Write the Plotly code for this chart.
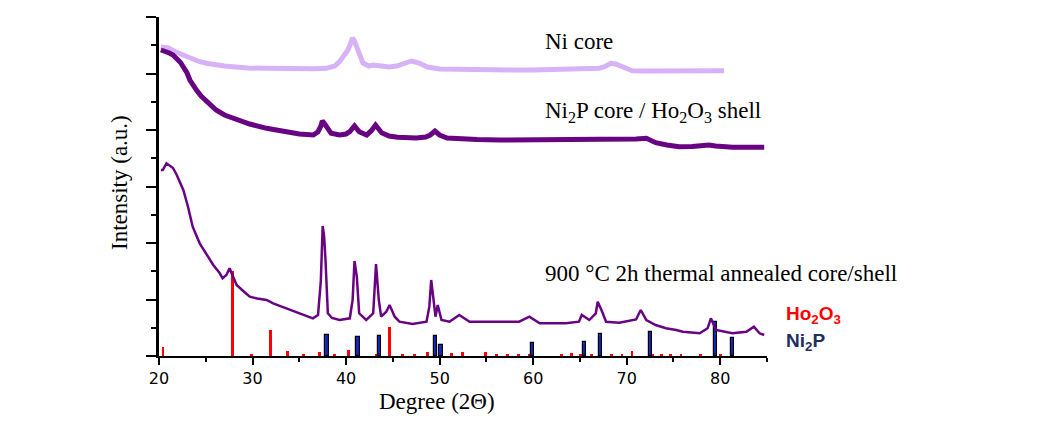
import plotly.graph_objects as go

# ---------------- data ----------------
# Ni core (2theta, intensity a.u.)
ni_x = [20.2, 21.0, 21.8, 22.6, 23.5, 24.35, 25.2, 26.1, 27.0, 27.9, 29.5, 31.5, 33.5, 35.0,
        36.5, 37.9, 38.8, 39.3, 39.8, 40.2, 40.5, 40.7, 40.9, 41.26, 41.8, 42.4, 42.9, 43.8,
        44.6, 45.4, 46.3, 47.0, 47.8, 48.7, 50.0, 52.0, 54.0, 56.4, 58.0, 60.0, 62.0, 64.0,
        65.5, 67.1, 67.8, 68.3, 68.8, 69.5, 70.6, 72.0, 74.0, 76.0, 77.8, 79.0, 80.4]
ni_y = [309, 308, 304, 301, 297, 294.3, 292.5, 291, 290, 289.3, 288, 287.7, 287.2, 287,
        287.3, 287.7, 290, 294.3, 300, 306, 313, 318, 315, 306, 293, 290, 291, 290,
        289, 290, 293, 295, 293, 289, 287, 286.5, 286.2, 286, 286, 286, 286.3, 286.5,
        286.8, 287.7, 290, 292.7, 292, 289, 285.3, 285, 285, 284.5, 284.3, 284.8, 285.3]

# Ni2P core / Ho2O3 shell
sh_x = [20.2, 20.6, 21.1, 21.5, 21.9, 22.3, 22.6, 23.0, 23.3, 23.6, 24.0, 24.5, 25.1, 25.6,
        26.1, 27.0, 27.9, 28.8, 29.7, 31.5, 33.25, 35.0, 36.5, 37.0, 37.3, 37.46, 37.65, 37.9,
        38.4, 39.3, 40.0, 40.4, 40.9, 41.4, 42.2, 42.7, 43.15, 43.8, 44.6, 45.5, 46.5, 47.5,
        48.5, 49.0, 49.5, 50.0, 50.8, 52.0, 54.0, 56.4, 59.0, 61.7, 64.0, 67.1, 69.0, 71.0,
        72.1, 73.1, 74.3, 75.6, 77.0, 78.2, 78.8, 79.5, 80.5, 81.3, 83.0, 84.7]
sh_y = [306, 305, 303, 301, 298, 293.5, 289, 283, 276, 271, 266, 260, 254.3, 250,
        246, 241, 238, 235, 232, 227.7, 224.3, 222, 221, 224.3, 230, 235, 233, 229.3,
        222.7, 221, 222, 224.3, 230, 224.3, 221, 225.3, 231, 223.3, 220, 218.7, 218, 218,
        219, 221, 225, 221, 218, 217, 216.5, 216, 216.5, 216.7, 216.5, 216.7, 216.5, 217,
        217.7, 213.3, 211, 209.3, 209.5, 210, 211, 210, 209, 208.7, 208.7, 208.7]

# 900 C 2h thermal annealed core/shell
an_x = [20.2, 20.4, 20.8, 21.1, 21.5, 21.9, 22.2, 22.6, 23.1, 23.6, 24.35, 25.1, 25.8, 26.5,
        26.8, 27.2, 27.55, 27.8, 28.3, 29.0, 29.7, 30.5, 31.5, 32.2, 33.6, 35.0, 36.45, 37.0,
        37.3, 37.5, 37.65, 37.8, 38.05, 38.5, 39.3, 40.4, 40.7, 40.9, 41.15, 41.4, 42.15, 42.9,
        43.2, 43.5, 43.75, 44.3, 44.65, 45.2, 45.7, 47.1, 48.6, 48.9, 49.1, 49.27, 49.56, 49.8,
        50.2, 51.06, 52.1, 53.2, 56.0, 58.5, 59.6, 60.7, 63.5, 64.9, 65.2, 66.0, 66.7, 66.9,
        67.3, 67.8, 69.2, 71.0, 71.5, 72.1, 73.1, 74.2, 75.3, 76.0, 77.8, 78.65, 79.0, 79.55,
        81.3, 82.8, 83.6, 84.2, 84.7]
an_y = [186, 186, 192.7, 191, 188, 181, 174.3, 166, 149.3, 129.3, 112.7, 101, 91, 82.7,
        77.7, 81, 87.7, 82, 71, 65, 59.3, 57.5, 56, 52.7, 47.7, 42.7, 37.7, 41,
        75, 130, 120, 96, 42.7, 38, 36, 37.7, 56, 95, 79.3, 42.7, 36, 42.7,
        92, 56, 39.3, 44.3, 51, 39.3, 34.3, 32, 34.3, 49.3, 76, 62.7, 39.3, 51,
        36, 34.3, 41, 34.3, 34.3, 34.3, 39.3, 32.7, 32.7, 34.3, 41, 36, 42.7, 54.3,
        46, 34.3, 33.3, 36.5, 46, 36, 31, 27.7, 26, 24.3, 22.7, 27.7, 37.7, 26,
        22.7, 24.3, 29.3, 22.7, 21]

# Reference patterns (stick positions, heights)
ho_pos = [20.43, 27.9, 29.9, 31.9, 33.75, 35.45, 37.17, 38.8, 40.27, 43.2, 44.6, 46.0, 47.3,
          48.7, 51.25, 52.48, 54.87, 56.05, 57.25, 58.4, 59.57, 63.0, 64.1, 65.1, 66.26,
          68.4, 69.5, 70.57, 72.8, 73.7, 74.7, 75.8, 77.9, 80.0]
ho_h = [9.3, 85, 1.5, 26, 5, 1.5, 4, 1.5, 6, 2, 29, 2, 1.2,
        4, 3, 4, 4, 2, 1.2, 2, 1.2, 1.5, 3, 2, 1.2,
        1.2, 2, 5, 1.2, 1.2, 1.2, 2, 1.2, 1.2]

np_pos = [37.95, 41.26, 43.58, 49.56, 50.13, 59.92, 65.48, 67.19, 72.53, 79.5, 81.29]
np_h = [21, 18.7, 20, 20, 11, 12.7, 13.7, 21.7, 23.7, 33.7, 17.7]

x_ticks = [20, 30, 40, 50, 60, 70, 80]

# ---------------- figure ----------------
LIGHT = "#D8B2F6"
DARK = "#680382"

fig = go.Figure()
fig.add_trace(go.Scatter(x=ni_x, y=ni_y, mode="lines",
                         line=dict(color=LIGHT, width=5), showlegend=False))
fig.add_trace(go.Scatter(x=sh_x, y=sh_y, mode="lines",
                         line=dict(color=DARK, width=5), showlegend=False))
fig.add_trace(go.Scatter(x=an_x, y=an_y, mode="lines",
                         line=dict(color=DARK, width=2.5), showlegend=False))
fig.add_trace(go.Bar(x=ho_pos, y=ho_h, width=0.3, marker=dict(color="#FF0000", line=dict(width=0)),
                     showlegend=False))
fig.add_trace(go.Bar(x=np_pos, y=np_h, width=0.38,
                     marker=dict(color="#1428C8", line=dict(color="#000000", width=1.2)),
                     showlegend=False))

# page offset of the plot div (body margin) is 8 px
OFF = 8
PL, PT, PW, PH = 159, 17, 608, 339   # plot area in page pixels

serif = "Liberation Serif"
fig.update_layout(
    width=1045 - OFF, height=426 - OFF,
    margin=dict(l=PL - OFF, r=1045 - PL - PW, t=PT - OFF, b=426 - PT - PH),
    paper_bgcolor="white", plot_bgcolor="white",
    barmode="overlay", bargap=0,
    xaxis=dict(range=[20, 85], tickvals=x_ticks, ticktext=[str(v) for v in x_ticks],
               ticks="outside", ticklen=7, tickwidth=2, tickcolor="black",
               minor=dict(tickvals=[25, 35, 45, 55, 65, 75, 85], ticks="outside",
                          ticklen=4, tickwidth=2, tickcolor="black"),
               showline=True, linecolor="black", linewidth=2, showgrid=False, zeroline=False,
               tickfont=dict(family="DejaVu Sans", size=16, color="black")),
    yaxis=dict(range=[0, 339], tickmode="linear", tick0=0, dtick=56.5,
               ticks="outside", ticklen=10, tickwidth=2, tickcolor="black",
               minor=dict(tick0=0, dtick=28.25, ticks="outside", ticklen=5,
                          tickwidth=2, tickcolor="black"),
               showticklabels=False,
               showline=True, linecolor="black", linewidth=2.5, showgrid=False, zeroline=False),
)


def px(x):
    return (x - PL) / PW


def py(y):
    return (PT + PH - y) / PH


ann = [
    dict(text="Ni core", x=543, y=41),
    dict(text="Ni<sub>2</sub>P core / Ho<sub>2</sub>O<sub>3</sub> shell", x=543, y=112),
    dict(text="900 °C 2h thermal annealed core/shell", x=543, y=273),
]
for a in ann:
    fig.add_annotation(text=a["text"], xref="paper", yref="paper",
                       x=px(a["x"]), y=py(a["y"]),
                       xanchor="left", yanchor="middle", showarrow=False,
                       font=dict(family=serif, size=23, color="black"))

fig.add_annotation(text="Degree (2Θ)", xref="paper", yref="paper",
                   x=px(437), y=py(401), xanchor="center", yanchor="middle",
                   showarrow=False, font=dict(family=serif, size=23, color="black"))
fig.add_annotation(text="Intensity (a.u.)", xref="paper", yref="paper",
                   x=px(119), y=py(183), xanchor="center", yanchor="middle",
                   textangle=-90, showarrow=False, font=dict(family=serif, size=23, color="black"))

fig.add_annotation(text="<b>Ho<sub>2</sub>O<sub>3</sub></b>", xref="paper", yref="paper",
                   x=px(784), y=py(315), xanchor="left", yanchor="middle",
                   showarrow=False, font=dict(family="Liberation Sans", size=19, color="#FF0000"))
fig.add_annotation(text="<b>Ni<sub>2</sub>P</b>", xref="paper", yref="paper",
                   x=px(784), y=py(342), xanchor="left", yanchor="middle",
                   showarrow=False, font=dict(family="Liberation Sans", size=19, color="#1F3060"))

fig.write_html("out.html")
